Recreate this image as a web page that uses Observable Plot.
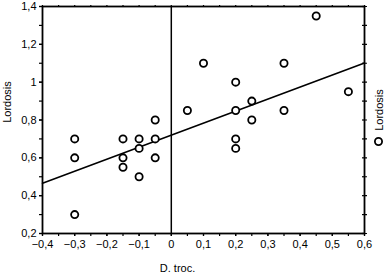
<!DOCTYPE html>
<html>
<head>
<meta charset="utf-8">
<script src="https://cdn.jsdelivr.net/npm/d3@7"></script>
<script src="https://cdn.jsdelivr.net/npm/@observablehq/plot@0.6"></script>
<style>
  html, body { margin: 0; padding: 0; background: #fff; }
</style>
</head>
<body>
<div id="chart"></div>
<script>
// Data
const dTroc    = [-0.3, -0.3, -0.3, -0.15, -0.15, -0.15, -0.1, -0.1, -0.1, -0.05, -0.05, -0.05,
                  0.05, 0.1, 0.2, 0.2, 0.2, 0.2, 0.25, 0.25, 0.35, 0.35, 0.45, 0.55];
const lordosis = [0.7, 0.6, 0.3, 0.7, 0.6, 0.55, 0.7, 0.65, 0.5, 0.8, 0.7, 0.6,
                  0.85, 1.1, 1.0, 0.85, 0.7, 0.65, 0.9, 0.8, 1.1, 0.85, 1.35, 0.95];
// Fitted line drawn in the reference (intercept, slope) and its x extent
const fitIntercept = 0.72;
const fitSlope = 0.635;
const fitXs = [-0.4, 0.6];
// Tick values
const xTickLabels = [-0.4, -0.3, -0.2, -0.1, 0, 0.1, 0.2, 0.3, 0.4, 0.5, 0.6];
const xMinorTicks = [-0.4, -0.35, -0.3, -0.25, -0.2, -0.15, -0.1, -0.05, 0, 0.05, 0.1, 0.15, 0.2, 0.25, 0.3, 0.35, 0.4, 0.45, 0.5, 0.55, 0.6];
const yTickLabels = [0.2, 0.4, 0.6, 0.8, 1, 1.2, 1.4];
const yMinorTicks = [0.2, 0.3, 0.4, 0.5, 0.6, 0.7, 0.8, 0.9, 1, 1.1, 1.2, 1.3, 1.4];
const xTitle = "D. troc.";
const yTitle = "Lordosis";
const legendLabel = "Lordosis";

const points = dTroc.map((x, i) => ({x, y: lordosis[i]}));
const fitLine = fitXs.map(x => ({x, y: fitIntercept + fitSlope * x}));
const fmt = d => String(Math.round(d * 10) / 10).replace(".", ",").replace("-", "\u2212");
const blank = () => "";

const chart = Plot.plot({
  width: 387,
  height: 274,
  marginLeft: 42,
  marginRight: 23,
  marginTop: 6,
  marginBottom: 41,
  x: {domain: [-0.4, 0.6]},
  y: {domain: [0.2, 1.4]},
  style: {fontFamily: "'Liberation Sans', Arial, Helvetica, sans-serif", fontSize: "11px", color: "black", background: "white"},
  marks: [
    Plot.axisX({ticks: xTickLabels, tickFormat: fmt, tickSize: 3, tickPadding: 4, label: null, strokeWidth: 1.2}),
    Plot.axisX({ticks: xMinorTicks, tickFormat: blank, tickSize: 3, label: null, strokeWidth: 1.2}),
    Plot.axisX({anchor: "top", ticks: xMinorTicks, tickFormat: blank, tickSize: 2, label: null, strokeWidth: 1.2}),
    Plot.axisY({ticks: yTickLabels, tickFormat: fmt, tickSize: 3, tickPadding: 3, label: null, strokeWidth: 1.2}),
    Plot.axisY({ticks: yMinorTicks, tickFormat: blank, tickSize: 3, label: null, strokeWidth: 1.2}),
    Plot.axisY({anchor: "right", ticks: yMinorTicks, tickFormat: blank, tickSize: 2, label: null, strokeWidth: 1.2}),
    Plot.axisY({anchor: "right", ticks: yMinorTicks, tickFormat: blank, tickSize: -3, label: null, strokeWidth: 1.2}),
    Plot.frame({stroke: "black", strokeWidth: 1.8}),
    Plot.ruleX([0], {stroke: "black", strokeWidth: 1.5}),
    Plot.line(fitLine, {x: "x", y: "y", stroke: "black", strokeWidth: 1.6}),
    Plot.dot(points, {x: "x", y: "y", r: 3.6, stroke: "black", strokeWidth: 1.8, fill: "white"}),
    Plot.text([xTitle], {frameAnchor: "bottom", dx: -26, dy: 35, lineAnchor: "middle", text: d => d}),
    Plot.text([yTitle], {frameAnchor: "left", dx: -35, dy: -18, rotate: -90, textAnchor: "middle", lineAnchor: "middle", text: d => d}),
    Plot.text([legendLabel], {frameAnchor: "right", dx: 15, dy: -10, rotate: -90, textAnchor: "middle", lineAnchor: "middle", text: d => d}),
    Plot.dot([legendLabel], {frameAnchor: "right", dx: 14, dy: 21.5, r: 3.6, stroke: "black", strokeWidth: 1.8, fill: "white"})
  ]
});
document.getElementById("chart").appendChild(chart);
</script>
</body>
</html>
